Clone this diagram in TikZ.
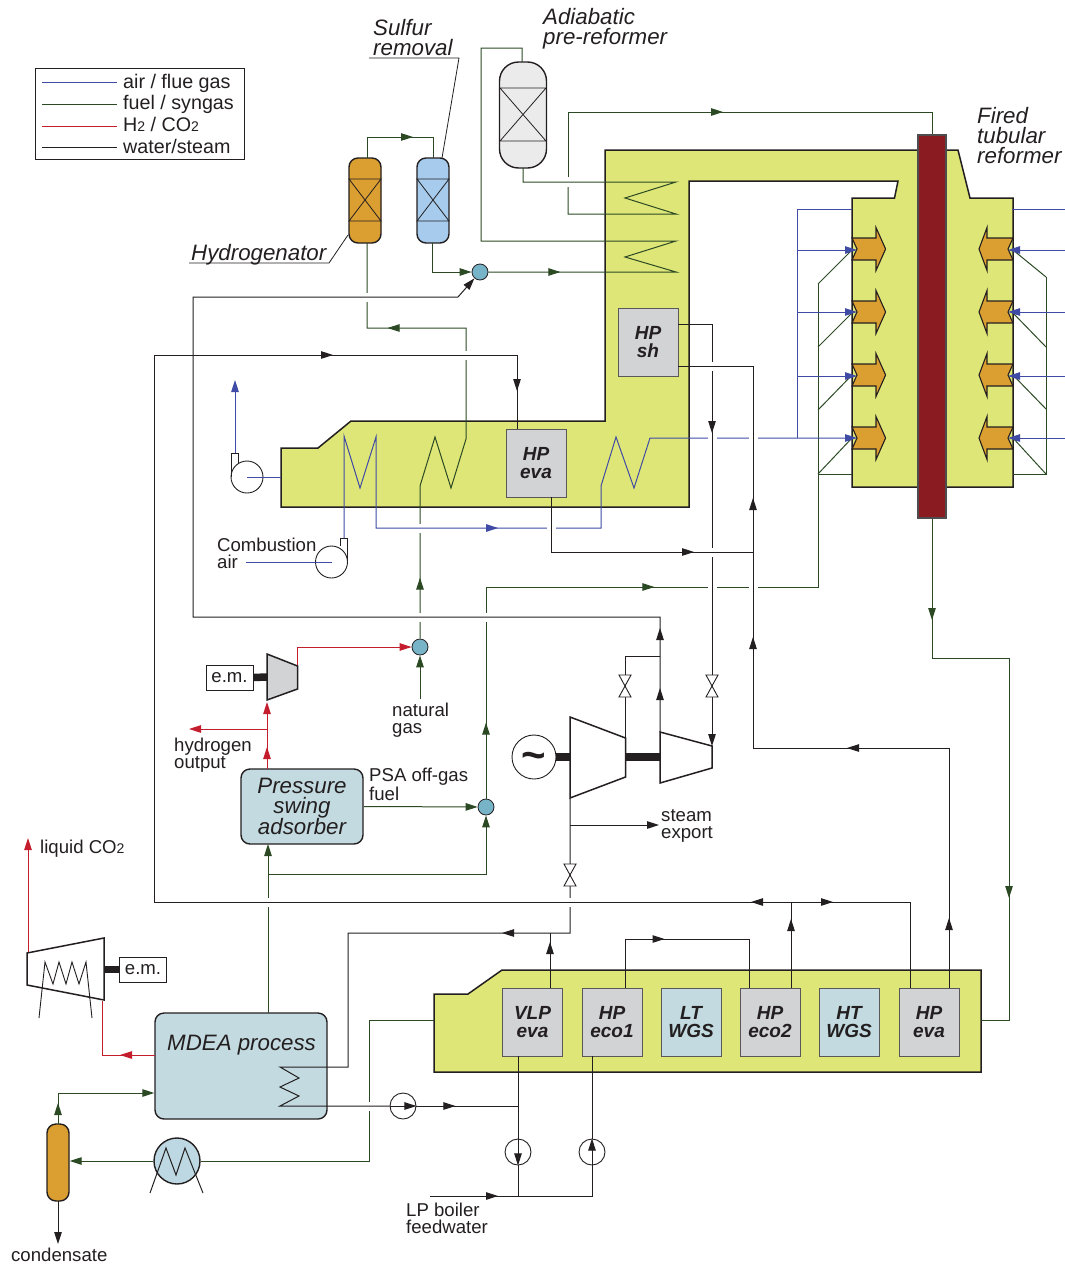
\documentclass[tikz,border=0pt]{standalone}
\usepackage{fontspec}
\setmainfont{Liberation Sans}
\usetikzlibrary{arrows.meta,decorations.markings}

\definecolor{inkblack}{HTML}{231F20}
\definecolor{airblue}{HTML}{3F4BA5}
\definecolor{fuelgreen}{HTML}{2B4A24}
\definecolor{hydrored}{HTML}{C41E2E}
\definecolor{furnaceyellow}{HTML}{DFE678}
\definecolor{burnerorange}{HTML}{DB9E30}
\definecolor{guardblue}{HTML}{A6CBEC}
\definecolor{processteal}{HTML}{C3DBE0}
\definecolor{boxgrey}{HTML}{D2D3D5}
\definecolor{prereformgrey}{HTML}{EBEBEB}
\definecolor{tubered}{HTML}{8A1C21}
\definecolor{junctionblue}{HTML}{78B4C8}

\newcommand{\lowtwo}{{\fontsize{14}{14}\selectfont 2}}

\tikzset{
    flowtip/.tip={Triangle[length=12pt,width=7.5pt]},
    tipat/.style={postaction={decorate,decoration={markings,mark=at position #1 with {\arrow{flowtip}}}}},
    airline/.style={color=airblue, line width=1pt},
    fuelline/.style={color=fuelgreen, line width=1pt},
    h2line/.style={color=hydrored, line width=1pt},
    waterline/.style={color=inkblack, line width=1pt},
    leader/.style={color=inkblack, line width=0.8pt},
    wall/.style={draw=inkblack, line width=1.5pt, line join=miter},
    shaft/.style={color=inkblack, line width=7.5pt},
    linegap/.style={white, line width=4pt},
    leglbl/.style={anchor=base west, inner sep=0pt, font=\fontsize{19.7}{19.7}\selectfont},
    lbl/.style={anchor=base west, inner sep=0pt, align=left, font=\fontsize{18.6}{16.5}\selectfont},
    namelbl/.style={anchor=base west, inner sep=0pt, align=left, font=\fontsize{22.3}{20}\selectfont\itshape},
    hxbox/.style={draw=inkblack!75, fill=boxgrey, line width=1pt, minimum width=60pt, minimum height=68pt, inner sep=0pt, align=center, font=\fontsize{19}{18}\selectfont\bfseries\itshape},
    vessel/.style={draw=inkblack, line width=1.4pt, rounded corners=9pt, inner sep=0pt, minimum width=32pt, minimum height=85pt},
    processbox/.style={draw=inkblack, fill=processteal, line width=1.4pt, rounded corners=9pt, inner sep=0pt},
    junction/.style={circle, draw=inkblack, fill=junctionblue, line width=0.8pt, minimum size=16pt, inner sep=0pt},
    pump/.style={circle, draw=inkblack, fill=white, line width=0.9pt, minimum size=26pt, inner sep=0pt},
    fan/.style={circle, draw=inkblack, fill=white, line width=0.9pt, minimum size=32pt, inner sep=0pt},
    embox/.style={draw=inkblack, fill=white, line width=0.9pt, minimum width=47pt, minimum height=25pt, inner sep=0pt, font=\fontsize{18.6}{18.6}\selectfont},
}

\begin{document}
\begin{tikzpicture}[x=1pt, y=-1pt, every node/.style={text=inkblack}]

    \useasboundingbox (0,0) rectangle (1065,1264);

    % Legend
    \node[draw=inkblack, line width=1pt, minimum width=209pt, minimum height=91pt, inner sep=0pt] (legend) at (139.5,113.5) {};
    \foreach \i/\y/\s in {1/82/airline, 2/104/fuelline, 3/126/h2line, 4/147/waterline} {
        \coordinate (legA\i) at (42,\y);
        \coordinate (legB\i) at (117,\y);
        \draw[\s] (legA\i) -- (legB\i);
    }
    \node[leglbl] (legtxtA) at (123,88) {air / flue gas};
    \node[leglbl] (legtxtB) at (123,109) {fuel / syngas};
    \node[leglbl] (legtxtC) at (123,131) {H\lowtwo{} / CO\lowtwo};
    \node[leglbl] (legtxtD) at (123,153) {water/steam};

    % Furnace and shift train walls
    \draw[wall, fill=furnaceyellow] (605,150) -- (958,150) -- (970,198) -- (1013,198) -- (1013,487) -- (852,487)
        -- (852,198) -- (894.5,198) -- (898,181) -- (689,181) -- (689,507) -- (281,507) -- (281,448) -- (318,448)
        -- (351,421) -- (605,421) -- cycle;
    \draw[wall, fill=furnaceyellow] (434,1072) -- (434,994) -- (468,994) -- (502,970) -- (981,970) -- (981,1072) -- cycle;
    \coordinate (shiftE) at (981,1020);
    \coordinate (shiftW) at (434,1020);

    % Vessels
    \node[vessel, fill=burnerorange] (hydro) at (365,200.5) {};
    \node[vessel, fill=guardblue] (sulf) at (433,200.5) {};
    \foreach \x in {349,417} {
        \draw[leader] (\x,179) -- (\x+32,179) -- (\x,221) -- (\x+32,221) -- cycle;
    }
    \node[draw=inkblack, fill=prereformgrey, line width=1.4pt, rounded corners=19pt, minimum width=47pt, minimum height=106pt, inner sep=0pt] (prerefm) at (523,115) {};
    \draw[leader] (500,88) -- (546,88) -- (500,141) -- (546,141) -- cycle;
    \node[vessel, fill=burnerorange, minimum width=22pt, minimum height=77pt] (knock) at (58,1162.5) {};

    % Process boxes
    \node[processbox, minimum width=122pt, minimum height=75pt, align=center, font=\fontsize{22.3}{20}\selectfont\itshape] (psa) at (302,806.5) {Pressure\\swing\\adsorber};
    \node[processbox, minimum width=172pt, minimum height=106pt] (mdea) at (241,1066) {};
    \node[namelbl] (mdeatxt) at (167,1050) {MDEA process};

    % Machines on the lines
    \node[junction] (jnS) at (480,272) {};
    \node[junction] (jnN) at (420,647) {};
    \node[junction] (jnP) at (486,807) {};
    \node[fan] (fanA) at (331.5,562) {};
    \node[fan] (fanB) at (247,477) {};
    \node[pump] (pumpA) at (403,1106) {};
    \node[pump] (pumpB) at (518,1152) {};
    \node[pump] (pumpC) at (592,1152) {};
    \draw[leader, line width=0.9pt] (340.5,546) -- (340.5,538) -- (347,538) -- (347,562);
    \draw[leader, line width=0.9pt] (231.5,477) -- (231.5,453) -- (238,453) -- (238,463);

    % Burners
    \foreach \y in {249, 312, 375, 438} {
        \draw[leader, line width=1.1pt, fill=burnerorange, shift={(852,\y)}] (0,-11) -- (24,-11) -- (24,-21.5) -- (33.6,0) -- (24,21.5) -- (24,11) -- (0,11) -- (5,0) -- cycle;
        \draw[leader, line width=1.1pt, fill=burnerorange, shift={(1013,\y)}, xscale=-1] (0,-11) -- (26,-11) -- (26,-21.5) -- (34,0) -- (26,21.5) -- (26,11) -- (0,11) -- (5,0) -- cycle;
    }

    % Fuel going through the coil to the hydrogenator
    \coordinate (ngin) at (420,699);
    \coordinate (hydbot) at (367,243);
    \draw[fuelline, tipat=61pt, tipat=498pt] (jnN) -- (420,486) -- (435,437) -- (451,488) -- (466,439) -- (466,328) -- (367,328) -- (hydbot);
    \draw[linegap] (420,523.5) -- (420,532.5);

    % Syngas lines
    \coordinate (hydtop) at (367,158);
    \coordinate (sulftop) at (433,158);
    \coordinate (sulfbot) at (432,243);
    \coordinate (pretop) at (522,62);
    \coordinate (prebot) at (523,168);
    \coordinate (feedgapA) at (568,187);
    \coordinate (feedgapB) at (568,177);
    \coordinate (tubetop) at (932,135);
    \coordinate (tubebot) at (932,518);
    \draw[fuelline, tipat=67pt] (hydtop) -- (367,137) -- (433,137) -- (sulftop);
    \draw[fuelline, -flowtip] (sulfbot) -- (432,272) -- (jnS);
    \draw[fuelline, tipat=72pt] (jnS) -- (676,272) -- (625,257) -- (676,241) -- (481,241) -- (481,48) -- (522,48) -- (pretop);
    \draw[fuelline] (prebot) -- (523,182) -- (676,182) -- (625,198) -- (676,214) -- (568,214) -- (feedgapA);
    \draw[fuelline, tipat=220pt] (feedgapB) -- (568,112) -- (932,112) -- (tubetop);
    \draw[fuelline, -flowtip] (ngin) -- (jnN);

    % Reformer product through the shift train to the separator
    \coordinate (koW) at (58,1124);
    \coordinate (koOut) at (58,1201);
    \coordinate (koEnd) at (58,1244);
    \node[circle, draw=inkblack, fill=processteal!80!guardblue, line width=1.4pt, minimum size=46pt, inner sep=0pt] (cooler) at (177,1161) {};
    \draw[leader, line width=1pt] (150,1193) -- (166,1148) -- (176,1175) -- (185,1148) -- (203,1193);
    \draw[fuelline, tipat=102pt, tipat=457pt] (tubebot) -- (932,658) -- (1009,658) -- (1009,1020) -- (shiftE);
    \draw[fuelline] (shiftW) -- (369,1020) -- (369,1161) -- (cooler);
    \draw[fuelline, -flowtip] (cooler) -- (knock.east |- cooler);
    \draw[fuelline, -flowtip, tipat=21pt] (koW) -- (58,1093) -- (mdea.west |- 0,1093);
    \draw[waterline, -flowtip] (koOut) -- (koEnd);

    % Fuel to the burners
    \coordinate (mdeatop) at (268,1013);
    \coordinate (psabot) at (268,844);
    \coordinate (psajn) at (268,874);
    \draw[fuelline, -flowtip] (mdeatop) -- (psabot);
    \draw[fuelline, -flowtip] (psajn) -| (jnP);
    \draw[fuelline, -flowtip] (psa.east) -- (jnP);
    \foreach \i/\y/\k/\m in {1/250/284/277, 2/313/347/347, 3/375/410/409, 4/438/474/474} {
        \coordinate (bwL\i) at (852,\y);
        \coordinate (bwR\i) at (1013,\y);
        \coordinate (tapL\i) at (818,\k);
        \coordinate (tapR\i) at (1046,\m);
        \draw[fuelline] (tapL\i) -- (bwL\i);
        \draw[fuelline] (tapR\i) -- (bwR\i);
    }
    \draw[fuelline, tipat=76pt, tipat=380pt] (jnP) -- (486,587) -- (818,587) -- (tapL1);
    \draw[fuelline] (tapL4) -- (852,474);
    \draw[fuelline] (tapR1) -- (tapR4) -- (1013,474);

    % Air and flue gas
    \coordinate (airin) at (246,562);
    \coordinate (airup) at (344,538);
    \coordinate (flueout) at (281,477);
    \coordinate (stackA) at (235,453);
    \coordinate (stackB) at (235,380);
    \draw[airline] (airin) -- (fanA.center);
    \draw[airline] (flueout) -- (fanB.center);
    \draw[airline, -flowtip] (stackA) -- (stackB);
    \foreach \i/\y in {1/250, 2/312, 3/376, 4/438} {
        \coordinate (airL\i) at (857,\y);
        \coordinate (airR\i) at (1008,\y);
        \coordinate (busL\i) at (797,\y);
        \coordinate (edgeR\i) at (1065,\y);
    }
    \draw[airline, -flowtip, tipat=423pt] (airup) -- (344,436) -- (360,488) -- (376,437) -- (376,528) -- (601,528) -- (601,486)
        -- (616,437) -- (634,488) -- (650,438) -- (airL4);
    \foreach \i in {1,2,3} {
        \draw[airline, -flowtip] (busL\i) -- (airL\i);
    }
    \draw[airline] (busL4) -- (797,209) -- (852,209);
    \foreach \i in {1,2,3,4} {
        \draw[airline, -flowtip] (edgeR\i) -- (airR\i);
    }
    \coordinate (edgeTop) at (1065,209);
    \coordinate (wallTop) at (1012,209);
    \draw[airline] (edgeTop) -- (wallTop);

    % Red lines
    \coordinate (psatop) at (267,769);
    \coordinate (cmpin) at (267,702);
    \coordinate (cmpout) at (297.5,666);
    \coordinate (h2tap) at (267,729);
    \coordinate (h2end) at (189,729);
    \coordinate (mdeaW) at (155,1055);
    \coordinate (co2A) at (102,1001);
    \coordinate (co2B) at (28,953);
    \coordinate (co2C) at (28,838);
    \draw[h2line, -flowtip, tipat=22pt] (psatop) -- (cmpin);
    \draw[h2line, -flowtip] (h2tap) -- (h2end);
    \draw[h2line, -flowtip] (cmpout) -- (297.5,647) -- (jnN);
    \draw[h2line, tipat=35pt] (mdeaW) -- (102,1055) -- (co2A);
    \draw[h2line, -flowtip] (co2B) -- (co2C);

    % Breaks in coloured lines under the water lines
    \foreach \x/\y in {367/297, 467/355, 486/617, 420/617, 268/902, 369/1106} {
        \draw[linegap] (\x,\y-4.5) -- (\x,\y+4.5);
    }
    \foreach \x/\y in {712/438, 753/438, 712/587, 753/587, 551/528} {
        \draw[linegap] (\x-4.5,\y) -- (\x+4.5,\y);
    }

    % Turbines, compressors and shafts
    \draw[wall, fill=white] (570,717) -- (625.5,738) -- (625.5,777) -- (570,798) -- cycle;
    \draw[wall, fill=white] (660,732) -- (712,746) -- (712,768) -- (660,783) -- cycle;
    \draw[wall, fill=boxgrey] (267,654) -- (297.5,666) -- (297.5,689) -- (267,700) -- cycle;
    \draw[wall, fill=white] (27,953) -- (104,938) -- (104,1000) -- (27,985) -- cycle;
    \draw[leader, line width=0.9pt] (39,1018) -- (45,962) -- (53,984) -- (59,962) -- (66,984) -- (72,962) -- (79,984) -- (86,962) -- (92,1018);
    \node[circle, draw=inkblack, line width=0.9pt, minimum size=44pt, inner sep=0pt] (gen) at (534,757) {};
    \node[inner sep=0pt, font=\fontsize{42}{42}\selectfont\bfseries] (gentxt) at (534,761) {\textasciitilde};
    \node[embox] (emA) at (229.5,677.5) {e.m.};
    \node[embox] (emB) at (143,969.5) {e.m.};
    \coordinate (shaftA) at (267,677);
    \coordinate (shaftB) at (104,969.5);
    \coordinate (shaftC) at (570,757);
    \coordinate (shaftD) at (625.5,757);
    \coordinate (shaftF) at (660,757);
    \draw[shaft] (emA.east) -- (shaftA);
    \draw[shaft] (shaftB) -- (emB.west);
    \draw[shaft] (gen.east) -- (shaftC);
    \draw[shaft] (shaftD) -- (shaftF);

    % Convective boxes
    \node[hxbox] (hpsh) at (648,342.5) {HP\\sh};
    \node[hxbox] (hpevaA) at (536,463) {HP\\eva};
    \foreach \nm/\x/\clr/\txt in {vlpeva/532.5/boxgrey/{VLP\\eva}, hpecoA/612/boxgrey/{HP\\eco1}, ltwgs/691/processteal/{LT\\WGS},
        hpecoB/770/boxgrey/{HP\\eco2}, htwgs/849/processteal/{HT\\WGS}, hpevaB/929/boxgrey/{HP\\eva}} {
        \node[hxbox, fill=\clr] (\nm) at (\x,1022) {\txt};
    }

    % Steam lines crossing the coloured ones
    \coordinate (shtop) at (678,324);
    \coordinate (lpin) at (712,746);
    \coordinate (hpout) at (570,798);
    \coordinate (exportend) at (659,825);
    \coordinate (exporttap) at (570,825);
    \coordinate (coilin) at (280,1067);
    \draw[waterline, -flowtip, tipat=143pt] (shtop) -- (712,324) -- (lpin);
    \draw[waterline, tipat=203pt] (hpout) -- (570,933) -- (348,933) -- (348,1067) -- (coilin) -- (299,1078) -- (280,1087) -- (299,1096) -- (280,1106) -- (pumpA);
    \draw[waterline, -flowtip] (exporttap) -- (exportend);
    \foreach \x/\y in {712/366, 712/552, 570/902} {
        \draw[linegap] (\x,\y-4.5) -- (\x,\y+4.5);
    }

    % Remaining water lines
    \coordinate (vlptop) at (550,988);
    \coordinate (vlpjoin) at (550,933);
    \coordinate (ecoAtop) at (625.5,988);
    \coordinate (ecoBtopA) at (749,988);
    \coordinate (ecoBtopB) at (791,988);
    \coordinate (steambus) at (791,902);
    \coordinate (evaBtopA) at (910,988);
    \coordinate (evaBtopB) at (949,988);
    \coordinate (evaAtop) at (517,429);
    \coordinate (evaAbot) at (551,497);
    \coordinate (shbot) at (678,366);
    \coordinate (lptop) at (660,732);
    \coordinate (lpjoin) at (660,656);
    \coordinate (hptop) at (625,738);
    \coordinate (lpjoinB) at (753,552);
    \coordinate (vlpbot) at (518,1056);
    \coordinate (ecoAbot) at (592,1056);
    \coordinate (bfwin) at (430,1196);
    \coordinate (bfwjoin) at (518,1196);
    \coordinate (condjoin) at (518,1106);
    \draw[waterline, tipat=46pt] (vlptop) -- (vlpjoin);
    \draw[waterline, tipat=88pt] (ecoAtop) -- (625.5,939) -- (749,939) -- (ecoBtopA);
    \draw[waterline, tipat=69pt] (ecoBtopB) -- (steambus);
    \draw[waterline, tipat=42pt] (steambus) -- (910,902) -- (evaBtopA);
    \draw[waterline, tipat=40pt, tipat=1363pt, tipat=1583pt] (steambus) -- (154,902) -- (154,355) -- (517,355) -- (evaAtop);
    \draw[waterline, tipat=70pt, tipat=342pt, tipat=547pt, tipat=686pt] (evaBtopB) -- (949,748) -- (753,748) -- (753,366) -- (shbot);
    \draw[waterline, tipat=198pt] (evaAbot) -- (551,552) -- (lpjoinB);
    \draw[waterline, -flowtip, tipat=44pt, tipat=104pt] (lptop) -- (660,617) -- (193,617) -- (193,297) -- (458,297) -- (jnS);
    \draw[waterline] (hptop) -- (625,656) -- (lpjoin);
    \draw[waterline, tipat=39pt] (pumpA) -- (condjoin);
    \draw[waterline] (vlpbot) -- (pumpB);
    \draw[waterline] (pumpB) -- (bfwjoin);
    \draw[waterline, tipat=68pt] (bfwin) -- (592,1196) -- (pumpC);
    \draw[waterline] (pumpC) -- (ecoAbot);
    \draw[waterline, -flowtip] (pumpA.west) -- (pumpA.east);
    \draw[waterline, -flowtip] (pumpB.north) -- (pumpB.south);
    \draw[waterline, -flowtip] (pumpC.south) -- (pumpC.north);

    % Valves
    \foreach \x/\y in {625/686, 712/686, 570/875} {
        \draw[leader, line width=0.9pt, fill=white] (\x-6,\y-11) -- (\x+6,\y-11) -- (\x-6,\y+11) -- (\x+6,\y+11) -- cycle;
    }

    % Reformer tube
    \node[draw=inkblack!80, fill=tubered, line width=1.2pt, minimum width=28pt, minimum height=383pt, inner sep=0pt] (tube) at (932,326.5) {};

    % Labels
    \coordinate (sulfA) at (369,58);
    \coordinate (sulfB) at (459,58);
    \coordinate (sulfC) at (442,158);
    \coordinate (hydroA) at (189,263);
    \coordinate (hydroB) at (329,263);
    \coordinate (hydroC) at (348,235);
    \draw[leader] (sulfA) -- (sulfB) -- (sulfC);
    \draw[leader] (hydroA) -- (hydroB) -- (hydroC);
    \node[namelbl] (sulflbl) at (373,55) {Sulfur\\removal};
    \node[namelbl] (prelbl) at (543,44) {Adiabatic\\pre-reformer};
    \node[namelbl] (firedlbl) at (977,163) {Fired\\tubular\\reformer};
    \node[namelbl] (hydrolbl) at (191,260) {Hydrogenator};
    \node[lbl] (airlbl) at (217,568) {Combustion\\air};
    \node[lbl] (nglbl) at (392,733) {natural\\gas};
    \node[lbl] (h2lbl) at (174,768) {hydrogen\\output};
    \node[lbl] (psalbl) at (369,800) {PSA off-gas\\fuel};
    \node[lbl] (exportlbl) at (661,838) {steam\\export};
    \node[lbl] (co2lbl) at (40,853) {liquid CO\lowtwo};
    \node[lbl] (bfwlbl) at (406,1233) {LP boiler\\feedwater};
    \node[lbl] (condlbl) at (11,1261) {condensate};

\end{tikzpicture}
\end{document}
